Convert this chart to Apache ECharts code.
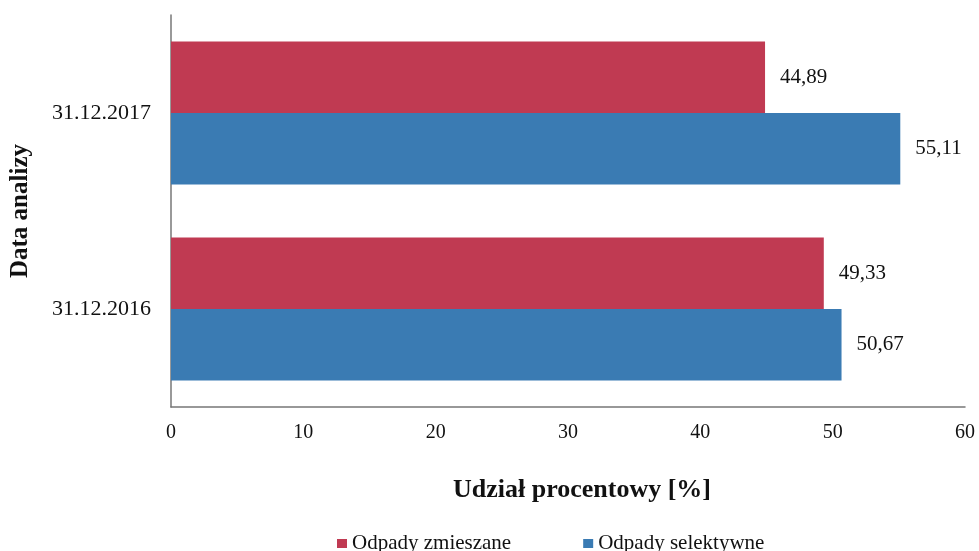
<!DOCTYPE html>
<html><head><meta charset="utf-8">
<script src="https://cdn.jsdelivr.net/npm/echarts@6/dist/echarts.min.js"></script>
<style>html,body{margin:0;padding:0;background:#fff}#c{width:979px;height:551px}</style>
</head><body><div id="c"></div>
<script>
const categories = ['31.12.2016', '31.12.2017'];
const mixed = [49.33, 44.89];
const selective = [50.67, 55.11];
const seriesNames = ['Odpady zmieszane', 'Odpady selektywne'];
const xTicks = [0, 10, 20, 30, 40, 50, 60];

const font = 'Liberation Serif';
const chart = echarts.init(document.getElementById('c'));
const lbl = {
  show: true, position: 'right', distance: 15,
  fontFamily: font, fontSize: 21, color: '#111',
  formatter: p => p.value.toFixed(2).replace('.', ',')
};
chart.setOption({
  animation: false,
  textStyle: { fontFamily: font },
  grid: { left: 170, right: 14, top: 15, bottom: 144, containLabel: false },
  legend: {
    data: seriesNames, top: 528, left: 332,
    icon: 'rect', itemWidth: 10, itemHeight: 9, itemGap: 72,
    textStyle: { fontFamily: font, fontSize: 21, color: '#111' }
  },
  xAxis: {
    type: 'value', min: xTicks[0], max: xTicks[xTicks.length - 1], interval: 10,
    splitLine: { show: false },
    axisLine: { show: true, lineStyle: { color: '#777', width: 1.5 } },
    axisTick: { show: false },
    axisLabel: { fontFamily: font, fontSize: 20, color: '#111', margin: 16 },
    name: 'Udział procentowy [%]', nameLocation: 'middle', nameGap: 70,
    nameTextStyle: { fontFamily: font, fontSize: 26, fontWeight: 'bold', color: '#111', padding: [0, 0, 0, 28] }
  },
  yAxis: {
    type: 'category', data: categories,
    axisLine: { show: true, lineStyle: { color: '#777', width: 1.5 } },
    axisTick: { show: false },
    axisLabel: { fontFamily: font, fontSize: 22, color: '#111', margin: 20 },
    name: 'Data analizy', nameLocation: 'middle', nameGap: 138,
    nameTextStyle: { fontFamily: font, fontSize: 25, fontWeight: 'bold', color: '#111' }
  },
  series: [
    { name: seriesNames[0], type: 'bar', data: mixed, barGap: '0%', barCategoryGap: '27%',
      itemStyle: { color: '#c03a52' }, label: lbl },
    { name: seriesNames[1], type: 'bar', data: selective, barGap: '0%', barCategoryGap: '27%',
      itemStyle: { color: '#3a7bb3' }, label: lbl }
  ]
});
</script></body></html>
